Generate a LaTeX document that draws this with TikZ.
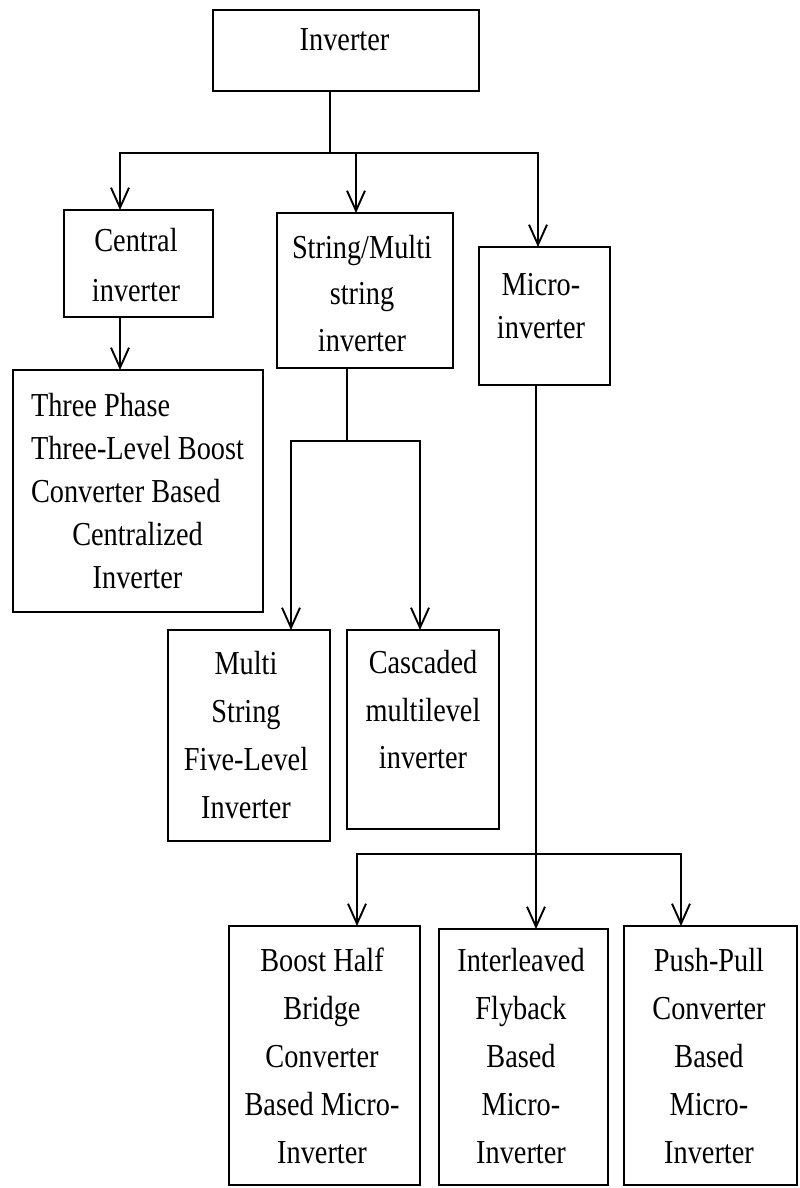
\documentclass[tikz,border=0pt]{standalone}
\usepackage{fontspec}
\setmainfont{Liberation Serif}[FakeStretch=0.845]
\usetikzlibrary{arrows.meta,calc}

\begin{document}
\begin{tikzpicture}[x=1pt,y=-1pt,
  box/.style={draw, line width=2.6pt, inner sep=0pt, outer sep=0pt},
  lbl/.style={align=center, inner sep=0pt, font=\fontsize{33.5}{47.5}\selectfont},
  link/.style={line width=1.9pt},
  arr/.style={link, -{Straight Barb[length=20pt,width=18pt]}}]
\useasboundingbox[fill=white] (0,0) rectangle (800,1188);

% frames of the classification tree
\node[box, minimum width=266pt, minimum height=81pt]  (inv) at (346,50.5)    {};
\node[box, minimum width=149pt, minimum height=107pt] (cen) at (138.5,263.5) {};
\node[box, minimum width=176pt, minimum height=155pt] (str) at (365,290.5)   {};
\node[box, minimum width=131pt, minimum height=138pt] (mic) at (544.5,316)   {};
\node[box, minimum width=250pt, minimum height=242pt] (thr) at (138,491)     {};
\node[box, minimum width=162pt, minimum height=211pt] (mul) at (249,735.5)   {};
\node[box, minimum width=152pt, minimum height=199pt] (cas) at (423,729.5)   {};
\node[box, minimum width=191pt, minimum height=259pt] (boo) at (324.5,1055.5){};
\node[box, minimum width=169pt, minimum height=256pt] (itl) at (523.5,1057)  {};
\node[box, minimum width=173pt, minimum height=259pt] (pus) at (710.5,1055.5){};

% labels
\node[lbl] (invT) at (344.5,40) {Inverter};
\node[lbl, font=\fontsize{33.5}{50}\selectfont] (cenT) at (136,265) {Central\\inverter};
\node[lbl, font=\fontsize{33.5}{46.5}\selectfont] (strT) at (362,293.5) {String/Multi\\string\\inverter};
\node[lbl, font=\fontsize{33.5}{43}\selectfont] (micT) at (541,306.5) {Micro-\\inverter};
\node[lbl, font=\fontsize{33.5}{43}\selectfont] (thrT) at (137.5,491)
  {\makebox[213pt][l]{Three Phase}\\\makebox[213pt][l]{Three-Level Boost}\\\makebox[213pt][l]{Converter Based}\\Centralized\\Inverter};
\node[lbl, font=\fontsize{33.5}{48}\selectfont] (mulT) at (246,735) {Multi\\String\\Five-Level\\Inverter};
\node[lbl] (casT) at (423,710) {Cascaded\\multilevel\\inverter};
\node[lbl, font=\fontsize{33.5}{48}\selectfont] (booT) at (322,1056) {Boost Half\\Bridge\\Converter\\Based Micro-\\Inverter};
\node[lbl, font=\fontsize{33.5}{48}\selectfont] (itlT) at (521,1056) {Interleaved\\Flyback\\Based\\Micro-\\Inverter};
\node[lbl, font=\fontsize{33.5}{48}\selectfont] (pusT) at (709,1056) {Push-Pull\\Converter\\Based\\Micro-\\Inverter};

% first level branching
\coordinate (hub1) at (330,153);
\draw[link] (inv.south -| hub1) -- (hub1);
\draw[arr] (hub1) -| ([xshift=-18.5pt]cen.north);
\draw[arr] (hub1) -| ([xshift=-9pt]str.north);
\draw[arr] (hub1) -| ([xshift=-6.5pt]mic.north);

% central inverter
\draw[arr] ([xshift=-18.5pt]cen.south) -- ([xshift=-18.5pt]cen.south |- thr.north);

% string inverters
\coordinate (hub2) at (347,441);
\draw[link] (str.south -| hub2) -- (hub2);
\draw[arr] (hub2) -| ([xshift=42pt]mul.north);
\draw[arr] (hub2) -| ([xshift=-3pt]cas.north);

% micro-inverters
\coordinate (hub3) at (536,854);
\draw[link] (mic.south -| hub3) -- (hub3);
\draw[arr] (hub3) -| ([xshift=32.5pt]boo.north);
\draw[arr] (hub3) -- (hub3 |- itl.north);
\draw[arr] (hub3) -| ([xshift=-29.5pt]pus.north);
\end{tikzpicture}
\end{document}
